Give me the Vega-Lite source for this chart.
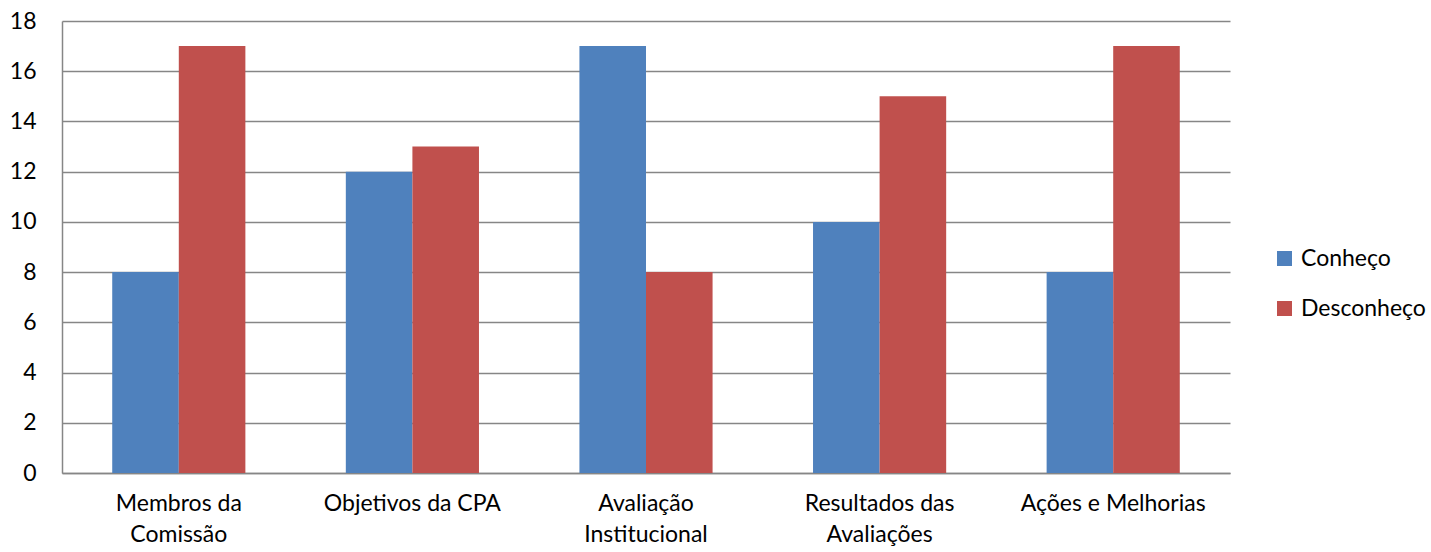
{
  "$schema": "https://vega.github.io/schema/vega-lite/v6.json",
  "autosize": {"type": "none"},
  "width": 1168,
  "height": 452,
  "padding": {"left": 62, "top": 21, "right": 201, "bottom": 79},
  "background": "white",
  "config": {
    "view": {"stroke": null},
    "font": "Lato",
    "axis": {"labelFont": "Lato", "labelFontSize": 23, "labelColor": "black", "ticks": false, "title": null, "labelLimit": 400}
  },
  "data": {
    "values": [
      {"categoria": "Membros da|Comissão", "resposta": "Conheço", "valor": 8},
      {"categoria": "Membros da|Comissão", "resposta": "Desconheço", "valor": 17},
      {"categoria": "Objetivos da CPA", "resposta": "Conheço", "valor": 12},
      {"categoria": "Objetivos da CPA", "resposta": "Desconheço", "valor": 13},
      {"categoria": "Avaliação|Institucional", "resposta": "Conheço", "valor": 17},
      {"categoria": "Avaliação|Institucional", "resposta": "Desconheço", "valor": 8},
      {"categoria": "Resultados das|Avaliações", "resposta": "Conheço", "valor": 10},
      {"categoria": "Resultados das|Avaliações", "resposta": "Desconheço", "valor": 15},
      {"categoria": "Ações e Melhorias", "resposta": "Conheço", "valor": 8},
      {"categoria": "Ações e Melhorias", "resposta": "Desconheço", "valor": 17}
    ]
  },
  "mark": {"type": "bar"},
  "encoding": {
    "x": {
      "field": "categoria",
      "type": "nominal",
      "sort": null,
      "scale": {"paddingInner": 0.43, "paddingOuter": 0.215},
      "axis": {
        "labelAngle": 0,
        "labelExpr": "split(datum.label, '|')",
        "labelPadding": 19,
        "labelLineHeight": 31,
        "labelBaseline": "top",
        "labelLimit": 400,
        "domainColor": "#868686",
        "domainWidth": 1.5,
        "grid": false
      }
    },
    "xOffset": {"field": "resposta", "type": "nominal", "sort": ["Conheço", "Desconheço"], "scale": {"paddingInner": 0, "paddingOuter": 0}},
    "y": {
      "field": "valor",
      "type": "quantitative",
      "scale": {"domain": [0, 18], "nice": false},
      "axis": {
        "values": [0, 2, 4, 6, 8, 10, 12, 14, 16, 18],
        "labelPadding": 26,
        "gridColor": "#868686",
        "gridWidth": 1.3,
        "domainColor": "#868686",
        "domainWidth": 1.5
      }
    },
    "color": {
      "field": "resposta",
      "type": "nominal",
      "scale": {"domain": ["Conheço", "Desconheço"], "range": ["#4F81BD", "#C0504D"]},
      "legend": {
        "title": null,
        "orient": "none",
        "legendX": 1211,
        "legendY": 226,
        "symbolType": "square",
        "symbolSize": 225,
        "symbolStrokeWidth": 0,
        "labelFont": "Lato",
        "labelFontSize": 23,
        "labelColor": "black",
        "labelLimit": 300,
        "rowPadding": 26,
        "labelOffset": 5,
        "padding": 0
      }
    }
  }
}
